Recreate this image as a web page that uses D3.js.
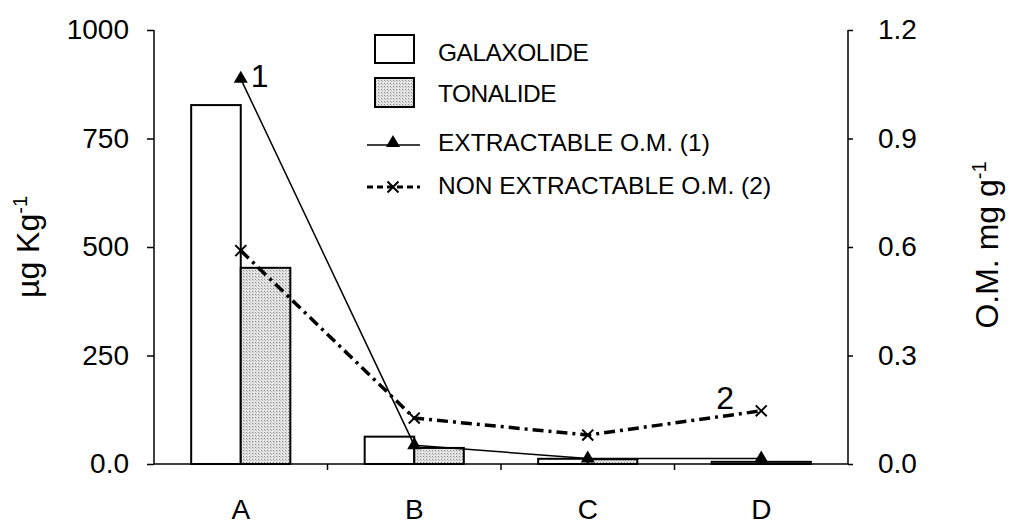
<!DOCTYPE html>
<html>
<head>
<meta charset="utf-8">
<script src="https://cdn.jsdelivr.net/npm/d3@7"></script>
<style>
  body { margin: 0; background: #fff; }
  text { font-family: "Liberation Sans", Arial, sans-serif; fill: #000; }
</style>
</head>
<body>
<div class="chart"></div>
<script>
// values
var sites = ["A", "B", "C", "D"];
var galaxolide = [827, 63, 12, 5];
var tonalide = [452, 37, 11, 5];
var extractableOM = [1.065, 0.052, 0.015, 0.015];
var nonExtractableOM = [0.59, 0.127, 0.08, 0.147];
var leftTicks = [0, 250, 500, 750, 1000];
var rightTicks = [0, 0.3, 0.6, 0.9, 1.2];

var width = 1013, height = 524;
var margin = {top: 30, right: 165, bottom: 60, left: 154};

var svg = d3.select(".chart").append("svg")
    .attr("width", width)
    .attr("height", height);

// stippled fill for tonalide
var pat = svg.append("defs").append("pattern")
    .attr("id", "dots")
    .attr("width", 3).attr("height", 3)
    .attr("patternUnits", "userSpaceOnUse");
pat.append("rect").attr("width", 3).attr("height", 3).attr("fill", "#e4e4e4");
pat.append("rect").attr("width", 1).attr("height", 1).attr("fill", "#8a8a8a");
pat.append("rect").attr("x", 1).attr("y", 1).attr("width", 1).attr("height", 1).attr("fill", "#b8b8b8");

var x = d3.scaleBand()
    .domain(sites)
    .range([margin.left, width - margin.right]);

var xSub = d3.scaleBand()
    .domain(["GALAXOLIDE", "TONALIDE"])
    .range([0, x.bandwidth()])
    .paddingOuter(0.75);

var y = d3.scaleLinear()
    .domain([0, 1000])
    .range([height - margin.bottom, margin.top]);

var y2 = d3.scaleLinear()
    .domain([0, 1.2])
    .range([height - margin.bottom, margin.top]);

// bars
var series = [
    {name: "GALAXOLIDE", values: galaxolide, fill: "#fff"},
    {name: "TONALIDE", values: tonalide, fill: "url(#dots)"}
];

series.forEach(function (s) {
    svg.append("g")
        .selectAll("rect")
        .data(s.values)
        .enter().append("rect")
        .attr("x", function (d, i) { return x(sites[i]) + xSub(s.name); })
        .attr("y", function (d) { return y(d); })
        .attr("width", xSub.bandwidth())
        .attr("height", function (d) { return y(0) - y(d); })
        .attr("fill", s.fill)
        .attr("stroke", "#000")
        .attr("stroke-width", 2);
});

// axes
var fontSize = 28;

var gLeft = svg.append("g")
    .attr("transform", "translate(" + margin.left + ",0)")
    .call(d3.axisLeft(y).tickValues(leftTicks).tickSize(7).tickPadding(18)
        .tickFormat(function (d) { return d === 0 ? "0.0" : d; }));

var gRight = svg.append("g")
    .attr("transform", "translate(" + (width - margin.right) + ",0)")
    .call(d3.axisRight(y2).tickValues(rightTicks).tickSize(5).tickPadding(25)
        .tickFormat(d3.format(".1f")));

var gBottom = svg.append("g")
    .attr("transform", "translate(0," + (height - margin.bottom) + ")")
    .call(d3.axisBottom(x).tickSize(0).tickPadding(35));

// category boundary ticks on the x axis
gBottom.selectAll(".sep")
    .data(sites.slice(1))
    .enter().append("line")
    .attr("x1", function (d) { return x(d); })
    .attr("x2", function (d) { return x(d); })
    .attr("y1", 0).attr("y2", 6)
    .attr("stroke", "#000")
    .attr("stroke-width", 1.5);

[gLeft, gRight, gBottom].forEach(function (g) {
    g.select(".domain").attr("stroke", "#000").attr("stroke-width", 1.5);
    g.selectAll(".tick line").attr("stroke", "#000").attr("stroke-width", 1.5);
    g.selectAll("text")
        .attr("font-size", fontSize)
        .attr("font-family", "Liberation Sans, Arial, sans-serif")
        .attr("fill", "#000");
});
gLeft.select(".domain").attr("d", "M0," + y(1000) + "V" + y(0));
gRight.select(".domain").attr("d", "M0," + y2(1.2) + "V" + y2(0));
gBottom.select(".domain").attr("d", "M" + margin.left + ",0H" + (width - margin.right));

// axis titles
svg.append("text")
    .attr("transform", "translate(39," + 247 + ") rotate(-90)")
    .attr("text-anchor", "middle")
    .attr("font-size", 32)
    .html('µg Kg<tspan dy="-12" font-size="20">-1</tspan>');

svg.append("text")
    .attr("transform", "translate(998," + 245 + ") rotate(-90)")
    .attr("text-anchor", "middle")
    .attr("font-size", 32)
    .html('O.M. mg g<tspan dy="-12" font-size="20">-1</tspan>');

// lines
var cx = function (d, i) { return x(sites[i]) + x.bandwidth() / 2; };

var line = d3.line()
    .x(cx)
    .y(function (d) { return y2(d); });

svg.append("path")
    .datum(nonExtractableOM)
    .attr("d", line)
    .attr("fill", "none")
    .attr("stroke", "#000")
    .attr("stroke-width", 3.5)
    .attr("stroke-dasharray", "11,5,3,5");

svg.append("path")
    .datum(extractableOM)
    .attr("d", line)
    .attr("fill", "none")
    .attr("stroke", "#000")
    .attr("stroke-width", 1.5);

var tri = d3.symbol().type(d3.symbolTriangle).size(85);
var cross = d3.symbol().type(d3.symbolX).size(80);

svg.append("g").selectAll("path")
    .data(extractableOM)
    .enter().append("path")
    .attr("d", tri)
    .attr("transform", function (d, i) { return "translate(" + cx(d, i) + "," + y2(d) + ")"; })
    .attr("fill", "#000");

svg.append("g").selectAll("path")
    .data(nonExtractableOM)
    .enter().append("path")
    .attr("d", cross)
    .attr("transform", function (d, i) { return "translate(" + cx(d, i) + "," + y2(d) + ")"; })
    .attr("fill", "none")
    .attr("stroke", "#000")
    .attr("stroke-width", 2);

// series numbers next to the lines
svg.append("text")
    .attr("x", cx(extractableOM[0], 0) + 10)
    .attr("y", y2(extractableOM[0]) + 8)
    .attr("font-size", 32)
    .text("1");

svg.append("text")
    .attr("x", cx(nonExtractableOM[3], 3) - 45)
    .attr("y", y2(nonExtractableOM[3]) - 2)
    .attr("font-size", 32)
    .text("2");

// legend
var legend = svg.append("g").attr("transform", "translate(375,35)");
var legFont = 24.5;

legend.append("rect")
    .attr("x", 0).attr("y", 0).attr("width", 39).attr("height", 28)
    .attr("fill", "#fff").attr("stroke", "#000").attr("stroke-width", 2);
legend.append("text").attr("x", 63).attr("y", 26).attr("font-size", legFont)
    .attr("letter-spacing", -0.5).text("GALAXOLIDE");

legend.append("rect")
    .attr("x", 0).attr("y", 43).attr("width", 39).attr("height", 29)
    .attr("fill", "url(#dots)").attr("stroke", "#000").attr("stroke-width", 2);
legend.append("text").attr("x", 63).attr("y", 67).attr("font-size", legFont)
    .attr("letter-spacing", -0.5).text("TONALIDE");

legend.append("line")
    .attr("x1", -8).attr("x2", 45).attr("y1", 110).attr("y2", 110)
    .attr("stroke", "#000").attr("stroke-width", 1.5);
legend.append("path").attr("d", tri)
    .attr("transform", "translate(18,108)").attr("fill", "#000");
legend.append("text").attr("x", 63).attr("y", 116).attr("font-size", legFont)
    .text("EXTRACTABLE O.M. (1)");

legend.append("line")
    .attr("x1", -8).attr("x2", 45).attr("y1", 152).attr("y2", 152)
    .attr("stroke", "#000").attr("stroke-width", 3)
    .attr("stroke-dasharray", "6,4");
legend.append("path").attr("d", cross)
    .attr("transform", "translate(18,152)")
    .attr("fill", "none").attr("stroke", "#000").attr("stroke-width", 2);
legend.append("text").attr("x", 63).attr("y", 159).attr("font-size", legFont)
    .text("NON EXTRACTABLE O.M. (2)");
</script>
</body>
</html>
